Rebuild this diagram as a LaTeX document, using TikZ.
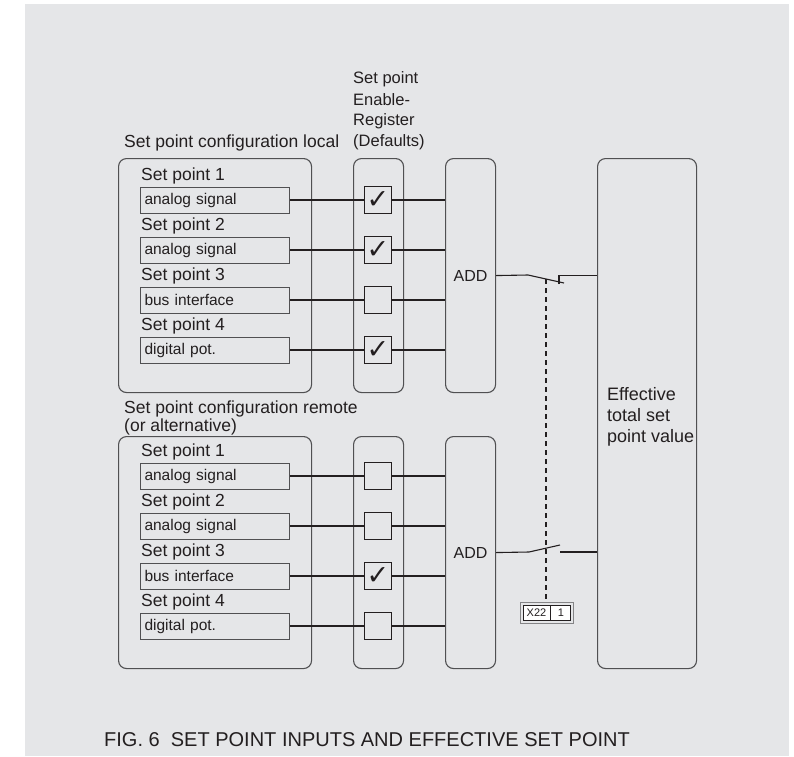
\documentclass[tikz,border=0pt]{standalone}
\usepackage{fontspec}
\setmainfont{Liberation Sans}
\newfontfamily\symfont{DejaVu Sans}
\usetikzlibrary{positioning,fit}
\definecolor{bgcolor}{RGB}{229,230,232}
\definecolor{framecolor}{RGB}{80,80,82}
\definecolor{wirecolor}{RGB}{35,31,32}
\definecolor{labelcolor}{RGB}{35,31,32}
\tikzset{
grouplabel/.style={
  anchor=base west,
  inner sep=0pt,
  font=\fontsize{17.5}{19}\selectfont,
  text=labelcolor
},
groupbox/.style={
  draw=framecolor,
  line width=1.1pt,
  rounded corners=8pt,
  anchor=north west,
  inner sep=0pt
},
sourcebox/.style={
  draw=framecolor,
  line width=1pt,
  anchor=west,
  text width=141pt,
  inner xsep=4pt,
  inner ysep=0pt,
  minimum height=26pt,
  align=left,
  font=\fontsize{15.5}{16}\selectfont,
  text=labelcolor
},
checkbox/.style={
  draw=wirecolor,
  line width=1.5pt,
  minimum size=27pt,
  inner sep=0pt,
  font=\symfont\fontsize{27}{27}\selectfont,
  text=wirecolor
},
wire/.style={
  draw=wirecolor,
  line width=1.1pt
},
termcell/.style={
  draw=wirecolor,
  line width=0.8pt,
  fill=white,
  minimum height=15pt,
  inner sep=0pt,
  font=\fontsize{11}{11}\selectfont,
  text=labelcolor
}
}
\newcommand{\tick}{\raisebox{-1pt}{\char"2713}}

\begin{document}
\begin{tikzpicture}[x=1pt,y=-1pt]
  \useasboundingbox (0,0) rectangle (794,756);
  \fill[bgcolor] (25,4) rectangle (789,756);

  % --- headings ---
  \node[grouplabel] (loctitle) at (124,147) {Set point configuration local};
  \node[grouplabel, font=\fontsize{16.5}{18}\selectfont] (entitle1) at (353,83) {Set point};
  \node[grouplabel, font=\fontsize{16.5}{18}\selectfont] (entitle2) at (353,105) {Enable-};
  \node[grouplabel, font=\fontsize{16.5}{18}\selectfont] (entitle3) at (353,125) {Register};
  \node[grouplabel, font=\fontsize{16.5}{18}\selectfont] (entitle4) at (353,146) {(Defaults)};
  \node[grouplabel] (remtitle1) at (124,413) {Set point configuration remote};
  \node[grouplabel] (remtitle2) at (124,431) {(or alternative)};

  % --- group frames ---
  \node[groupbox, minimum width=193pt, minimum height=234pt] (locbox) at (118,158) {};
  \node[groupbox, minimum width=50pt, minimum height=234pt] (locen) at (353,158) {};
  \node[groupbox, minimum width=50pt, minimum height=234pt,
        font=\fontsize{16}{18}\selectfont, text=labelcolor] (locadd) at (445,158) {ADD};
  \node[groupbox, minimum width=193pt, minimum height=232pt] (rembox) at (118,436) {};
  \node[groupbox, minimum width=50pt, minimum height=232pt] (remen) at (353,436) {};
  \node[groupbox, minimum width=50pt, minimum height=232pt,
        font=\fontsize{16}{18}\selectfont, text=labelcolor] (remadd) at (445,436) {ADD};
  \node[groupbox, minimum width=99pt, minimum height=510pt] (eff) at (597,158) {};
  \node[grouplabel, font=\fontsize{18}{21}\selectfont, align=left, anchor=north west]
    (efftext) at (607,387) {Effective\\total set\\point value};

  % --- local set points ---
  \def\r{0}
  \node[grouplabel] (lsl1) at (141,180+\r*50) {Set point 1};
  \node[sourcebox] (lsp1) at (140,200+\r*50) {analog signal};
  \node[checkbox] (lck1) at (378,200+\r*50) {\tick};
  \draw[wire] (lsp1.east) -- (lck1.west);
  \draw[wire] (lck1.east) -- (lck1.east -| locadd.west);

  \def\r{1}
  \node[grouplabel] (lsl2) at (141,180+\r*50) {Set point 2};
  \node[sourcebox] (lsp2) at (140,200+\r*50) {analog signal};
  \node[checkbox] (lck2) at (378,200+\r*50) {\tick};
  \draw[wire] (lsp2.east) -- (lck2.west);
  \draw[wire] (lck2.east) -- (lck2.east -| locadd.west);

  \def\r{2}
  \node[grouplabel] (lsl3) at (141,180+\r*50) {Set point 3};
  \node[sourcebox] (lsp3) at (140,200+\r*50) {bus interface};
  \node[checkbox] (lck3) at (378,200+\r*50) {};
  \draw[wire] (lsp3.east) -- (lck3.west);
  \draw[wire] (lck3.east) -- (lck3.east -| locadd.west);

  \def\r{3}
  \node[grouplabel] (lsl4) at (141,180+\r*50) {Set point 4};
  \node[sourcebox] (lsp4) at (140,200+\r*50) {digital pot.};
  \node[checkbox] (lck4) at (378,200+\r*50) {\tick};
  \draw[wire] (lsp4.east) -- (lck4.west);
  \draw[wire] (lck4.east) -- (lck4.east -| locadd.west);

  % --- remote set points ---
  \def\r{0}
  \node[grouplabel] (rsl1) at (141,456+\r*50) {Set point 1};
  \node[sourcebox] (rsp1) at (140,476+\r*50) {analog signal};
  \node[checkbox] (rck1) at (378,476+\r*50) {};
  \draw[wire] (rsp1.east) -- (rck1.west);
  \draw[wire] (rck1.east) -- (rck1.east -| remadd.west);

  \def\r{1}
  \node[grouplabel] (rsl2) at (141,456+\r*50) {Set point 2};
  \node[sourcebox] (rsp2) at (140,476+\r*50) {analog signal};
  \node[checkbox] (rck2) at (378,476+\r*50) {};
  \draw[wire] (rsp2.east) -- (rck2.west);
  \draw[wire] (rck2.east) -- (rck2.east -| remadd.west);

  \def\r{2}
  \node[grouplabel] (rsl3) at (141,456+\r*50) {Set point 3};
  \node[sourcebox] (rsp3) at (140,476+\r*50) {bus interface};
  \node[checkbox] (rck3) at (378,476+\r*50) {\tick};
  \draw[wire] (rsp3.east) -- (rck3.west);
  \draw[wire] (rck3.east) -- (rck3.east -| remadd.west);

  \def\r{3}
  \node[grouplabel] (rsl4) at (141,456+\r*50) {Set point 4};
  \node[sourcebox] (rsp4) at (140,476+\r*50) {digital pot.};
  \node[checkbox] (rck4) at (378,476+\r*50) {};
  \draw[wire] (rsp4.east) -- (rck4.west);
  \draw[wire] (rck4.east) -- (rck4.east -| remadd.west);

  % --- switches ---
  \coordinate (lswa) at (528,275);
  \coordinate (lswb) at (564,283);
  \coordinate (lswc) at (559,284);
  \coordinate (lact) at (546,279);
  \draw[wire] (locadd.east) -- (lswa) -- (lswb);
  \draw[wire] (lswc) -- (lswc |- locadd.east) -- (locadd.east -| eff.west);

  \coordinate (rswa) at (529,552);
  \coordinate (rswb) at (560,545);
  \coordinate (rswc) at (560,552);
  \draw[wire] (remadd.east) -- (rswa) -- (rswb);
  \draw[wire] (rswc) -- (rswc -| eff.west);

  % --- X22 terminal ---
  \node[termcell, minimum width=27pt] (x22) at (536.5,613) {X22};
  \node[termcell, minimum width=20pt, right=0pt of x22] (x22one) {1};
  \node[draw=framecolor!70, line width=0.8pt, inner sep=2.5pt, fit=(x22)(x22one)] (x22frame) {};
  \draw[wire, line width=1.4pt, dash pattern=on 5pt off 4pt] (lact) -- (lact |- x22frame.north);

  % --- caption ---
  \node[grouplabel, font=\fontsize{20}{22}\selectfont] (caption) at (104,746)
    {FIG.\ 6\ \ SET POINT INPUTS AND EFFECTIVE SET POINT};
\end{tikzpicture}
\end{document}
